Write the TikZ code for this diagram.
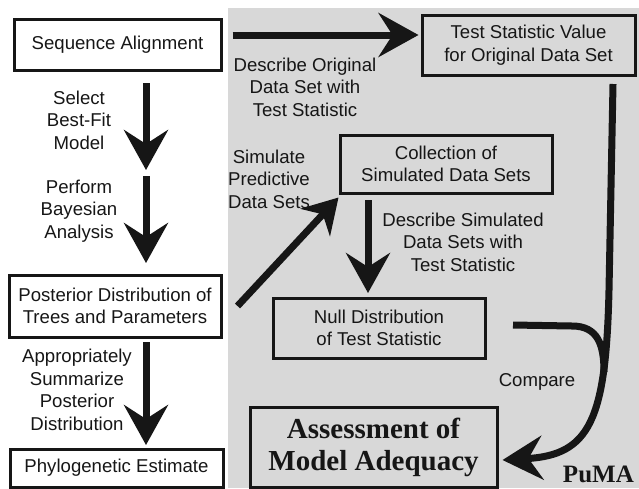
\documentclass[tikz,border=0pt]{standalone}
\usepackage{fontspec}
\setmainfont{Liberation Sans}
\newfontfamily\pumafont{Liberation Serif}
\usetikzlibrary{arrows.meta}
\definecolor{panelgray}{RGB}{216,216,216}
\definecolor{inkblack}{RGB}{22,22,22}

\begin{document}
\begin{tikzpicture}[x=1pt,y=-1pt]
        \tikzset{
            Step/.style={draw=inkblack, text=inkblack, line width=3pt, align=center, inner sep=0pt,
                font=\fontsize{18.6}{22.5}\selectfont},
            Label/.style={text=inkblack, align=center, inner sep=0pt, font=\fontsize{18.6}{22.5}\selectfont},
            BigArrow/.style={draw=inkblack, line width=7pt, -{Stealth[length=40pt,width=44pt,inset=14pt]}},
            SimArrow/.style={draw=inkblack, line width=7pt, -{Stealth[length=34pt,width=40pt,inset=11pt]}},
            Feed/.style={draw=inkblack, line width=7pt}
        }
        \useasboundingbox (0,0) rectangle (639,488);
        \fill[panelgray] (228,8) rectangle (639,488);
        \node[Step, minimum width=207pt, minimum height=51pt] (Seq) at (117.5,44.5) {Sequence Alignment};
        \node[Step, minimum width=212pt, minimum height=62pt] (Post) at (115,306) {Posterior Distribution of\\Trees and Parameters};
        \node[Step, minimum width=213pt, minimum height=38pt] (Phylo) at (116.5,468) {Phylogenetic Estimate};
        \node[Step, minimum width=213pt, minimum height=60pt] (Tsv) at (528.5,45) {Test Statistic Value\\for Original Data Set};
        \node[Step, minimum width=212pt, minimum height=58pt] (Coll) at (446,164) {Collection of\\Simulated Data Sets};
        \node[Step, minimum width=212pt, minimum height=60pt] (Null) at (379,328) {Null Distribution\\of Test Statistic};
        \node[Step, minimum width=247pt, minimum height=80pt, font=\pumafont\bfseries\fontsize{29}{32}\selectfont] (Assess) at (373.5,447) {Assessment of\\Model Adequacy};
        \node[Label] (FitLabel) at (79,120) {Select\\Best-Fit\\Model};
        \node[Label] (BayesLabel) at (79,211) {Perform\\Bayesian\\Analysis};
        \node[Label] (SummLabel) at (77,390) {Appropriately\\Summarize\\Posterior\\Distribution};
        \node[Label] (OrigLabel) at (305,87) {Describe Original\\Data Set with\\Test Statistic};
        \node[Label] (SimLabel) at (269,179) {Simulate\\Predictive\\Data Sets};
        \node[Label] (DescLabel) at (463,242) {Describe Simulated\\Data Sets with\\Test Statistic};
        \node[Label] (CmpLabel) at (537,382) {Compare};
        \node[text=inkblack, inner sep=0pt, anchor=base east, font=\pumafont\bfseries\fontsize{25}{30}\selectfont] (Puma) at (634,482) {PuMA};
        \coordinate (LeftCol) at (146,0);
        \coordinate (FitEnd) at (146,170);
        \coordinate (BayesStart) at (146,176);
        \coordinate (SimCol) at (368,0);
        \coordinate (Bend) at (609,290);
        \coordinate (Knee) at (572,326);
        \coordinate (Merge) at (604,372);
        \draw[BigArrow, shorten <=11.5pt] (Seq.south -| LeftCol) -- (FitEnd);
        \draw[BigArrow, shorten >=10.5pt] (BayesStart) -- (Post.north -| LeftCol);
        \draw[BigArrow, shorten <=3.5pt, shorten >=2.5pt] (Post.south -| LeftCol) -- (Phylo.north -| LeftCol);
        \draw[BigArrow] ([shift={(10pt,9.5pt)}]Seq.east) -- ([shift={(-2pt,10pt)}]Tsv.west);
        \draw[SimArrow] ([xshift=15pt]Post.east) -- ([yshift=-3pt]Coll.south west);
        \draw[BigArrow, shorten <=5.5pt, shorten >=3.5pt] (Coll.south -| SimCol) -- (Null.north -| SimCol);
        \draw[BigArrow] ([shift={(84.5pt,-7.5pt)}]Tsv.south) -- (Bend) .. controls (606,420) and (590,455) .. ([shift={(4pt,-13pt)}]Assess.east);
        \draw[Feed] ([shift={(26.5pt,3pt)}]Null.east) -- (Knee) .. controls (598,326) and (604,345) .. (Merge);
    \end{tikzpicture}
\end{document}
